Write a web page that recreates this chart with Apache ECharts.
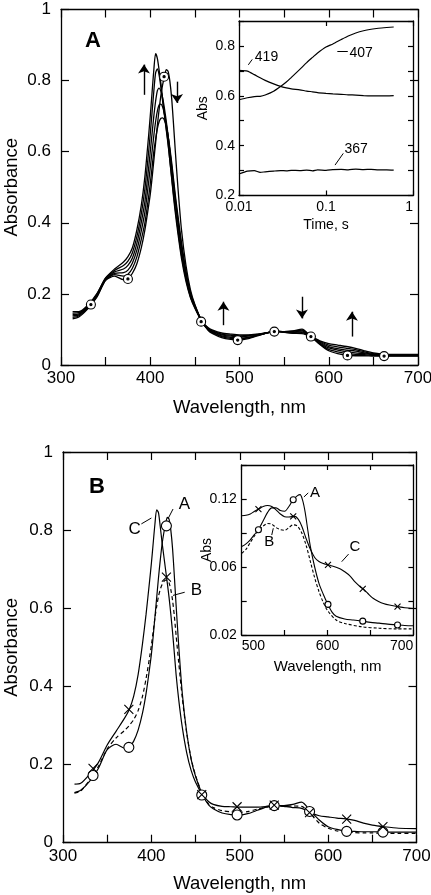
<!DOCTYPE html>
<html><head><meta charset="utf-8">
<script src="https://cdn.jsdelivr.net/npm/echarts@6/dist/echarts.min.js"></script>
<style>html,body{margin:0;padding:0;background:#fff}#c{width:431px;height:895px}</style>
</head><body><div id="c"></div>
<script>
const FONT = '"Liberation Sans", Arial, Helvetica, sans-serif';

// ---------- Panel A: spectra family (wavelength, nm) ----------
const wl = [313,320,330,340,350,360,370,375,380,385,390,394,398,400,402,404,406,408,410,412,414,416,418,420,422,424,426,428,431,435,440,445,450,458,465,470,480,490,500,510,520,530,540,550,560,570,580,590,600,610,620,630,640,650,663,680,700];
const specA0 = [.130,.135,.158,.190,.238,.250,.240,.242,.258,.285,.330,.380,.445,.480,.525,.575,.625,.675,.720,.760,.790,.812,.831,.826,.798,.750,.680,.605,.500,.380,.280,.212,.170,.122,.097,.088,.077,.072,.070,.074,.082,.090,.095,.094,.096,.101,.080,.058,.040,.032,.027,.026,.026,.025,.025,.025,.025];
const specA1 = [.134,.138,.160,.192,.239,.254,.250,.255,.272,.304,.354,.400,.470,.510,.555,.600,.635,.665,.685,.694,.695,.688,.672,.645,.610,.570,.525,.480,.420,.345,.265,.205,.168,.122,.099,.090,.080,.075,.073,.076,.083,.090,.095,.094,.095,.098,.080,.060,.044,.037,.032,.030,.029,.027,.026,.026,.026];
const specA2 = [.138,.141,.162,.194,.241,.258,.260,.267,.287,.323,.378,.430,.510,.555,.600,.645,.685,.715,.732,.734,.725,.705,.677,.643,.603,.560,.515,.470,.410,.335,.258,.200,.166,.122,.100,.092,.082,.078,.076,.078,.084,.090,.095,.093,.093,.096,.080,.062,.048,.042,.037,.034,.032,.029,.027,.027,.027];
const specA3 = [.142,.144,.164,.196,.242,.262,.270,.280,.301,.342,.402,.460,.550,.600,.650,.700,.742,.772,.779,.770,.750,.720,.685,.645,.600,.553,.505,.460,.398,.322,.250,.197,.164,.122,.102,.094,.085,.081,.079,.081,.085,.090,.095,.093,.092,.093,.080,.064,.052,.046,.042,.039,.034,.030,.028,.028,.028];
const specA4 = [.146,.147,.166,.198,.244,.266,.280,.292,.316,.361,.426,.495,.595,.650,.710,.770,.822,.833,.815,.780,.740,.700,.660,.620,.574,.528,.482,.440,.380,.308,.242,.192,.162,.122,.103,.096,.087,.084,.082,.083,.086,.090,.095,.092,.090,.091,.080,.066,.056,.051,.047,.043,.037,.032,.029,.029,.029];
const specA5 = [.150,.150,.168,.200,.245,.270,.290,.305,.330,.380,.450,.530,.640,.700,.765,.830,.876,.862,.828,.790,.745,.705,.665,.625,.575,.525,.475,.430,.370,.300,.235,.190,.160,.122,.105,.098,.090,.087,.085,.085,.087,.090,.095,.092,.089,.088,.080,.068,.060,.056,.052,.047,.040,.034,.030,.030,.030];
const markA_wl = [333.5,375,415.5,457,498,539,580,621,662];
const markA_val = [.170,.242,.811,.122,.070,.094,.080,.027,.025];
// arrows (wavelength, from, to)
const arrowWl = [393,430,482,570,626];
const arrowFrom = [0.760,0.797,0.112,0.192,0.080];
const arrowTo = [0.845,0.737,0.178,0.131,0.150];

// ---------- Panel A inset: kinetics (time, s) ----------
const tK = [0.01,0.0125,0.015,0.0175,0.02,0.025,0.03,0.035,0.04,0.05,0.06,0.07,0.08,0.1,0.12,0.15,0.18,0.22,0.27,0.33,0.4,0.5,0.6];
const k407 = [.584,.592,.597,.598,.603,.618,.637,.655,.674,.706,.733,.754,.772,.796,.808,.826,.840,.852,.861,.867,.871,.874,.876];
const k419 = [.702,.699,.685,.672,.662,.648,.638,.632,.628,.624,.619,.616,.613,.610,.608,.606,.604,.603,.601,.600,.600,.600,.601];
const k367 = [.286,.298,.300,.293,.295,.298,.300,.299,.301,.300,.302,.299,.303,.301,.304,.305,.303,.306,.304,.305,.303,.303,.302];

// ---------- Panel B: spectra A, B, C ----------
const specBA = [.128,.134,.157,.190,.238,.252,.242,.244,.260,.288,.332,.382,.447,.482,.527,.577,.627,.677,.722,.762,.792,.814,.833,.828,.800,.752,.682,.607,.502,.382,.282,.213,.170,.122,.096,.087,.076,.072,.071,.075,.083,.091,.095,.095,.098,.104,.081,.058,.041,.034,.030,.029,.028,.028,.027,.027,.027];
const specBB = [.127,.132,.160,.195,.240,.268,.288,.300,.315,.338,.375,.420,.475,.505,.540,.575,.605,.630,.648,.660,.668,.672,.672,.665,.648,.620,.580,.530,.460,.370,.280,.215,.172,.122,.098,.090,.082,.079,.078,.080,.086,.091,.094,.093,.094,.093,.074,.050,.037,.030,.028,.026,.025,.025,.024,.024,.024];
const specBC = [.150,.152,.175,.205,.250,.285,.320,.341,.375,.430,.510,.585,.670,.715,.765,.815,.852,.845,.810,.770,.735,.700,.665,.628,.585,.538,.485,.430,.365,.295,.230,.185,.155,.122,.105,.098,.093,.092,.091,.091,.091,.093,.096,.093,.090,.088,.077,.069,.066,.063,.061,.057,.050,.045,.041,.037,.036];
const markB_wl = [334,374.5,417,457,497,539,579,621,662];
const markBA_val = [.172,.244,.811,.122,.071,.095,.080,.029,.027];
const markBC_val = [.190,.341,.680,.123,.092,.096,.077,.0605,.041];

// ---------- Panel B inset ----------
const inA_wl = [500,505,510,515,519.5,525,530,535,540,545,550,555,560,565,568,571,574,577,580,585,590,595,600,605,610,620,630,640,650,660,670,680,690,700];
const inA = [.085,.087,.090,.094,.0974,.104,.110,.1135,.1135,.1115,.111,.1145,.1195,.1225,.1232,.119,.110,.097,.085,.070,.058,.050,.043,.037,.0338,.0318,.031,.0302,.0293,.0287,.028,.0275,.027,.0268];
const inB_wl = [500,505,510,515,520,525,530,535,540,545,550,555,560,565,570,575,580,585,590,595,600,610,620,640,660,680,700];
const inB = [.080,.083,.088,.093,.097,.100,.102,.1015,.099,.0975,.097,.099,.101,.100,.095,.086,.074,.062,.052,.044,.038,.031,.0285,.026,.025,.0245,.0245];
const inC_wl = [500,505,510,515,519.5,525,530,535,540,545,550,555,562,566,570,575,580,585,590,595,600.5,605,610,615,620,626,632,638,641.5,647,653,660,665,672,681.5,690,700];
const inC = [.1077,.108,.109,.111,.1125,.1145,.1152,.1145,.112,.109,.107,.1068,.1072,.105,.100,.091,.083,.077,.074,.0725,.0716,.0708,.0698,.0685,.0665,.0635,.059,.0555,.0539,.0505,.047,.0445,.0432,.042,.0409,.0400,.0395];
const inMark_wl = [519.5,560,600.5,641,681.5];
const inMarkA = [.0974,.1195,.0425,.0302,.0274];
const inMarkC = [.1125,.1072,.0716,.0539,.0409];

// tick labels
const mainXLabels = {300:'300',400:'400',500:'500',600:'600',700:'700'};
const mainYLabels = ['0','0.2','0.4','0.6','0.8','1'];
const insetAYLabels = {2:'0.2',4:'0.4',6:'0.6',8:'0.8'};
const insetAXLabels = ['0.01','0.1','1'];
const insetBYLabels = ['0.02','','0.06','','0.12',''];
const insetBXLabels = {500:'500',600:'600',700:'700'};

const pts = (xs, ys) => xs.map((x, i) => [x, ys[i]]);
const BLACK = '#000';

function xAx(grid, cfg, top) {
  return Object.assign({
    gridIndex: grid, type: 'value', position: top ? 'top' : 'bottom',
    axisLine: {show: true, onZero: false, lineStyle: {color: BLACK, width: 1.3}},
    axisTick: {show: true, inside: true, length: cfg.tick, lineStyle: {color: BLACK, width: 1.2}},
    axisLabel: {show: !top, color: BLACK, fontFamily: FONT, fontSize: cfg.fs, margin: cfg.margin, formatter: cfg.fmt, showMinLabel: true, showMaxLabel: true},
    splitLine: {show: false},
    name: top ? '' : cfg.name, nameLocation: 'middle', nameGap: cfg.nameGap, nameMoveOverlap: false,
    nameTextStyle: {color: BLACK, fontFamily: FONT, fontSize: cfg.nfs}
  }, cfg.scale);
}
function yAx(grid, cfg, right) {
  return Object.assign({
    gridIndex: grid, type: 'value', position: right ? 'right' : 'left',
    axisLine: {show: true, onZero: false, lineStyle: {color: BLACK, width: 1.3}},
    axisTick: {show: true, inside: true, length: cfg.tick, lineStyle: {color: BLACK, width: 1.2}},
    axisLabel: {show: !right, color: BLACK, fontFamily: FONT, fontSize: cfg.fs, margin: cfg.margin, formatter: cfg.fmt, showMinLabel: true, showMaxLabel: true},
    splitLine: {show: false},
    name: right ? '' : cfg.name, nameLocation: 'middle', nameGap: cfg.nameGap, nameRotate: 90, nameMoveOverlap: false,
    nameTextStyle: {color: BLACK, fontFamily: FONT, fontSize: cfg.nfs}
  }, cfg.scale);
}

const mainX = {tick: 8, fs: 17, margin: 5, nfs: 18.5, name: 'Wavelength, nm', nameGap: 33,
  fmt: v => mainXLabels[Math.round(v)] || '', scale: {min: 300, max: 700, interval: 50}};
const mainXB = Object.assign({}, mainX, {nameGap: 32});
const mainY = {tick: 8, fs: 17, margin: 10, nfs: 18.5, name: 'Absorbance', nameGap: 40,
  fmt: v => mainYLabels[Math.round(v * 5)] || '', scale: {min: 0, max: 1, interval: 0.2}};
const mainYB = Object.assign({}, mainY, {nameGap: 42});
const insAX = {tick: 5, fs: 14, margin: 5, nfs: 14, name: 'Time, s', nameGap: 23,
  fmt: v => insetAXLabels[Math.round(Math.log10(v)) + 2] || '', scale: {type: 'log', logBase: 10, min: 0.01, max: 1}};
const insAY = {tick: 5, fs: 14, margin: 4, nfs: 14, name: 'Abs', nameGap: 29,
  fmt: v => insetAYLabels[Math.round(v * 10)] || '', scale: {min: 0.2, max: 0.9, interval: 0.1}};
const insBX = {tick: 5, fs: 14, margin: 4, nfs: 15, name: 'Wavelength, nm', nameGap: 24,
  fmt: v => insetBXLabels[Math.round(v)] || '', scale: {min: 500, max: 700, interval: 50}};
const insBY = {tick: 5, fs: 14, margin: 5, nfs: 14, name: 'Abs', nameGap: 28,
  fmt: v => insetBYLabels[Math.round((v - 0.02) / 0.025)] || '', scale: {min: 0.02, max: 0.145, interval: 0.025}};

const xAxes = [
  xAx(0, mainX, false), xAx(0, mainX, true),
  xAx(1, insAX, false), xAx(1, insAX, true),
  xAx(2, mainXB, false), xAx(2, mainXB, true),
  xAx(3, insBX, false), xAx(3, insBX, true)
];
xAxes[2].axisLabel.alignMaxLabel = 'right';
xAxes[6].axisLabel.alignMinLabel = 'left';
xAxes[6].axisLabel.alignMaxLabel = 'right';
const yAxes = [
  yAx(0, mainY, false), yAx(0, mainY, true),
  yAx(1, insAY, false), yAx(1, insAY, true),
  yAx(2, mainYB, false), yAx(2, mainYB, true),
  yAx(3, insBY, false), yAx(3, insBY, true)
];

// g = grid number; its bottom/left axes are at index 2*g
function line(g, data, opts) {
  return Object.assign({type: 'line', xAxisIndex: 2 * g, yAxisIndex: 2 * g, data: data, showSymbol: false,
    smooth: 0.25, silent: true, z: 2, lineStyle: {color: BLACK, width: 1.3}}, opts || {});
}
function marks(g, data, symbol, size, fill, z) {
  return {type: 'scatter', xAxisIndex: 2 * g, yAxisIndex: 2 * g, data: data, symbol: symbol, symbolSize: size,
    silent: true, z: z || 4, itemStyle: {color: fill, borderColor: BLACK, borderWidth: 1.1, opacity: 1}};
}
function texts(g, items, fs) {
  return {type: 'scatter', xAxisIndex: 2 * g, yAxisIndex: 2 * g, symbolSize: 0, silent: true, z: 5,
    itemStyle: {opacity: 1, color: BLACK},
    data: items.map(it => ({name: it[0], value: [it[1], it[2]],
      label: {show: true, position: it[3], distance: 0, formatter: '{b}', color: BLACK, opacity: 1,
        textBorderWidth: 0, fontFamily: FONT, fontSize: fs}}))};
}
function segs(list, withArrow) {
  return {silent: true, symbol: withArrow ? ['none', 'arrow'] : ['none', 'none'], symbolSize: 9,
    label: {show: false},
    lineStyle: {color: BLACK, width: withArrow ? 1.4 : 1, type: 'solid', opacity: 1},
    itemStyle: {color: BLACK},
    data: list.map(s => [{coord: [s[0], s[1]]}, {coord: [s[2], s[3]]}])};
}
const CROSS = 'path://M0,0L10,10M10,0L0,10';

const series = [];
// Panel A spectra
[specA0, specA1, specA2, specA3, specA4, specA5].forEach((s, i) => {
  const ser = line(0, pts(wl, s));
  if (i === 0) ser.markLine = segs(arrowWl.map((w, j) => [w, arrowFrom[j], w, arrowTo[j]]), true);
  series.push(ser);
});
series.push(marks(0, pts(markA_wl, markA_val), 'circle', 9, '#fff', 4));
series.push(marks(0, pts(markA_wl, markA_val), 'circle', 2.2, BLACK, 5));

// Panel A inset kinetics
const kin407 = line(1, pts(tK, k407), {lineStyle: {color: BLACK, width: 1.2}, smooth: 0.2});
kin407.markLine = segs([[0.0128, 0.724, 0.0142, 0.746], [0.135, 0.777, 0.178, 0.777], [0.127, 0.322, 0.158, 0.369]], false);
series.push(kin407);
series.push(line(1, pts(tK, k419), {lineStyle: {color: BLACK, width: 1.2}, smooth: 0.2}));
series.push(line(1, pts(tK, k367), {lineStyle: {color: BLACK, width: 1.2}, smooth: 0.2}));
series.push(texts(1, [['419', 0.0152, 0.755, 'right'], ['407', 0.186, 0.773, 'right'], ['367', 0.163, 0.385, 'right']], 14));

// Panel B spectra
const bA = line(2, pts(wl, specBA), {lineStyle: {color: BLACK, width: 1.2}});
bA.markLine = segs([[418.8, 0.829, 424.5, 0.854], [388.7, 0.816, 400, 0.831], [424.5, 0.633, 437.7, 0.641]], false);
series.push(bA);
series.push(line(2, pts(wl, specBB), {lineStyle: {color: BLACK, width: 1.2, type: [4, 3]}}));
series.push(line(2, pts(wl, specBC), {lineStyle: {color: BLACK, width: 1.2}}));
series.push(marks(2, pts(markB_wl, markBA_val), 'circle', 10, '#fff', 4));
series.push(marks(2, pts(markB_wl, markBC_val), CROSS, 9, 'none', 4));
series.push(texts(2, [['A', 431, 0.867, 'right'], ['C', 388, 0.803, 'left'], ['B', 444.5, 0.647, 'right']], 17));

// Panel B inset
const iA = line(3, pts(inA_wl, inA), {lineStyle: {color: BLACK, width: 1.1}, smooth: 0.3});
iA.markLine = segs([[572.5, 0.1215, 577.5, 0.1245], [535, 0.0935, 536.8, 0.0985], [616.5, 0.0739, 624.5, 0.0795]], false);
series.push(iA);
series.push(line(3, pts(inB_wl, inB), {lineStyle: {color: BLACK, width: 1.1, type: [3, 2]}, smooth: 0.3}));
series.push(line(3, pts(inC_wl, inC), {lineStyle: {color: BLACK, width: 1.1}, smooth: 0.3}));
series.push(marks(3, pts(inMark_wl, inMarkA), 'circle', 6, '#fff', 4));
series.push(marks(3, pts(inMark_wl, inMarkC), CROSS, 6, 'none', 4));
series.push(texts(3, [['A', 579.5, 0.1244, 'right'], ['B', 532, 0.0888, 'inside'], ['C', 625.5, 0.0846, 'right']], 15));

const G = {outerBoundsMode: 'none', containLabel: false};
const chart = echarts.init(document.getElementById('c'), null, {renderer: 'canvas'});
chart.setOption({
  animation: false,
  backgroundColor: '#fff',
  title: [
    {text: 'A', left: 80, top: 25, textStyle: {fontFamily: FONT, fontSize: 22, fontWeight: 'bold', color: BLACK}},
    {text: 'B', left: 84, top: 471, textStyle: {fontFamily: FONT, fontSize: 22, fontWeight: 'bold', color: BLACK}}
  ],
  grid: [
    Object.assign({left: 61, top: 9.5, width: 357, height: 355.5}, G),
    Object.assign({left: 239, top: 21, width: 174, height: 174.5}, G),
    Object.assign({left: 63, top: 452, width: 353.5, height: 390.7}, G),
    Object.assign({left: 241.7, top: 465, width: 171.7, height: 170}, G)
  ],
  xAxis: xAxes,
  yAxis: yAxes,
  series: series
});
</script></body></html>
